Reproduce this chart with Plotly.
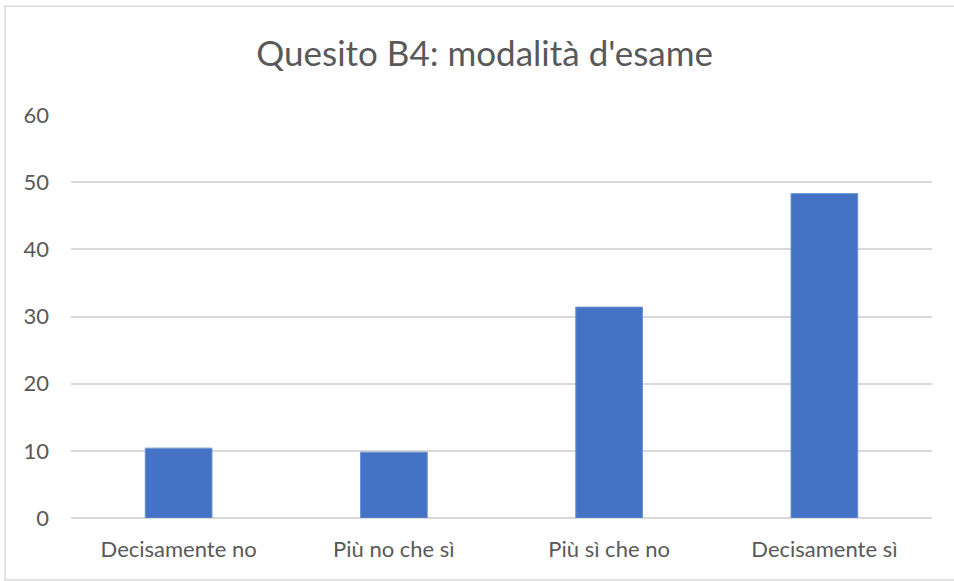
import plotly.graph_objects as go

# Dati del grafico
categorie = ["Decisamente no", "Più no che sì", "Più sì che no", "Decisamente sì"]
valori = [10.4, 9.8, 31.4, 48.3]
tick_y = [0, 10, 20, 30, 40, 50, 60]

fig = go.Figure()

fig.add_trace(go.Bar(
    x=categorie,
    y=valori,
    marker=dict(color="#4472C4", line=dict(color="#6f93d6", width=1)),
    showlegend=False
))

fig.update_layout(
    width=954,
    height=581,
    title=dict(
        text="Quesito B4: modalità d'esame",
        x=0.508,
        xanchor="center",
        y=0.908,
        yanchor="middle",
        font=dict(family="Lato", size=35, color="#595959")
    ),
    font=dict(family="Lato", size=22, color="#595959"),
    plot_bgcolor="white",
    paper_bgcolor="white",
    bargap=0.69,
    margin=dict(l=71, r=22, t=115, b=63),
    xaxis=dict(
        showgrid=False,
        showline=False,
        ticks="",
        ticklabelstandoff=16,
        tickfont=dict(size=22, color="#595959")
    ),
    yaxis=dict(
        range=[0, 60],
        tickvals=tick_y,
        showgrid=True,
        gridcolor="#d9d9d9",
        gridwidth=1.5,
        zeroline=True,
        zerolinecolor="#d9d9d9",
        zerolinewidth=1.5,
        ticks="",
        ticklabelstandoff=21,
        tickfont=dict(size=22, color="#595959")
    ),
    # bordo del grafico
    shapes=[dict(
        type="rect", xref="paper", yref="paper",
        x0=-0.0767, x1=1.04, y0=-0.154, y1=1.27,
        line=dict(color="#d9d9d9", width=1.5)
    )]
)

# niente margine della pagina, niente barra strumenti
fig.write_html(
    "out.html",
    config={"displayModeBar": False},
    post_script="document.body.style.margin='0';"
)
